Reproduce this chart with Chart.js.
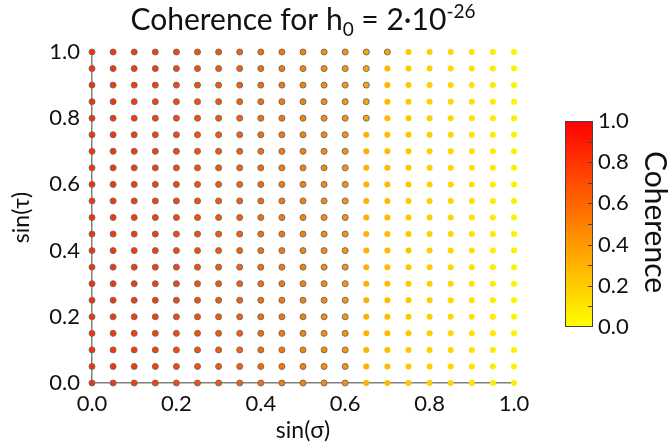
<!DOCTYPE html>
<html>
<head>
<meta charset="utf-8">
<script src="https://cdn.jsdelivr.net/npm/chart.js@4.4.0/dist/chart.umd.min.js"></script>
<style>
  html, body { margin: 0; padding: 0; background: #ffffff; }
  #wrap { width: 671px; height: 448px; position: relative; }
</style>
</head>
<body>
<div id="wrap"><canvas id="c" width="671" height="448"></canvas></div>
<script>
// ---- data ----
const sigmaValues = [0.00,0.05,0.10,0.15,0.20,0.25,0.30,0.35,0.40,0.45,0.50,0.55,0.60,0.65,0.70,0.75,0.80,0.85,0.90,0.95,1.00];
const tauValues   = [0.00,0.05,0.10,0.15,0.20,0.25,0.30,0.35,0.40,0.45,0.50,0.55,0.60,0.65,0.70,0.75,0.80,0.85,0.90,0.95,1.00];
// coherence[row = tau index][col = sigma index]
const coherence = [
  [0.82,0.80,0.78,0.76,0.73,0.70,0.67,0.63,0.59,0.54,0.50,0.46,0.42,0.31,0.27,0.22,0.19,0.16,0.12,0.08,0.06],
  [0.82,0.80,0.78,0.76,0.73,0.70,0.67,0.63,0.59,0.54,0.50,0.46,0.42,0.31,0.27,0.22,0.19,0.16,0.12,0.08,0.06],
  [0.82,0.80,0.78,0.76,0.73,0.70,0.67,0.63,0.59,0.54,0.50,0.46,0.42,0.31,0.27,0.22,0.19,0.16,0.12,0.08,0.06],
  [0.82,0.80,0.78,0.76,0.73,0.70,0.67,0.63,0.59,0.54,0.50,0.46,0.42,0.31,0.27,0.22,0.19,0.16,0.12,0.08,0.06],
  [0.82,0.80,0.78,0.76,0.73,0.70,0.67,0.63,0.59,0.54,0.50,0.46,0.42,0.31,0.27,0.22,0.19,0.16,0.12,0.08,0.06],
  [0.82,0.80,0.78,0.76,0.73,0.70,0.67,0.63,0.59,0.54,0.50,0.46,0.42,0.31,0.27,0.22,0.19,0.16,0.12,0.08,0.06],
  [0.82,0.80,0.78,0.76,0.73,0.70,0.67,0.63,0.59,0.54,0.50,0.46,0.42,0.31,0.27,0.22,0.19,0.16,0.12,0.08,0.06],
  [0.82,0.80,0.78,0.76,0.73,0.70,0.67,0.63,0.59,0.54,0.50,0.46,0.42,0.31,0.27,0.22,0.19,0.16,0.12,0.08,0.06],
  [0.82,0.80,0.78,0.76,0.73,0.70,0.67,0.63,0.59,0.54,0.50,0.46,0.42,0.31,0.27,0.22,0.19,0.16,0.12,0.08,0.06],
  [0.82,0.80,0.78,0.76,0.73,0.70,0.67,0.63,0.59,0.54,0.50,0.46,0.42,0.31,0.27,0.22,0.19,0.16,0.12,0.08,0.06],
  [0.82,0.80,0.78,0.76,0.73,0.70,0.67,0.63,0.59,0.54,0.50,0.46,0.42,0.31,0.27,0.22,0.19,0.16,0.12,0.08,0.06],
  [0.82,0.80,0.78,0.76,0.73,0.70,0.67,0.63,0.59,0.54,0.50,0.46,0.42,0.31,0.27,0.22,0.19,0.16,0.12,0.08,0.06],
  [0.82,0.80,0.78,0.76,0.73,0.70,0.67,0.63,0.59,0.54,0.50,0.46,0.42,0.31,0.27,0.22,0.19,0.16,0.12,0.08,0.06],
  [0.82,0.80,0.78,0.76,0.73,0.70,0.67,0.63,0.59,0.54,0.50,0.46,0.42,0.31,0.27,0.22,0.19,0.16,0.12,0.08,0.06],
  [0.82,0.80,0.78,0.76,0.73,0.70,0.67,0.63,0.59,0.54,0.50,0.46,0.42,0.31,0.27,0.22,0.19,0.16,0.12,0.08,0.06],
  [0.82,0.80,0.78,0.76,0.73,0.70,0.67,0.63,0.59,0.54,0.50,0.46,0.42,0.31,0.27,0.22,0.19,0.16,0.12,0.08,0.06],
  [0.82,0.80,0.78,0.76,0.73,0.70,0.67,0.63,0.59,0.54,0.50,0.46,0.42,0.35,0.27,0.22,0.19,0.16,0.12,0.08,0.06],
  [0.82,0.80,0.78,0.76,0.73,0.70,0.67,0.63,0.59,0.54,0.50,0.46,0.42,0.35,0.27,0.22,0.19,0.16,0.12,0.08,0.06],
  [0.82,0.80,0.78,0.76,0.73,0.70,0.67,0.63,0.59,0.54,0.50,0.46,0.42,0.35,0.28,0.22,0.19,0.16,0.12,0.08,0.06],
  [0.82,0.80,0.78,0.76,0.73,0.70,0.67,0.63,0.59,0.54,0.50,0.46,0.42,0.35,0.28,0.22,0.19,0.16,0.12,0.08,0.06],
  [0.82,0.80,0.78,0.76,0.73,0.70,0.67,0.63,0.59,0.54,0.50,0.46,0.42,0.35,0.34,0.22,0.19,0.16,0.12,0.08,0.06]
];
const axisTickValues = [0.0,0.2,0.4,0.6,0.8,1.0];
const colorbarTickLabels = ["0.0","0.2","0.4","0.6","0.8","1.0"];
const borderThreshold = 1/3;

// ---- helpers ----
function cmap(v) {
  const t = Math.max(0, Math.min(1, v));
  const g = Math.round(255 * (1 - t));
  return 'rgb(255,' + g + ',0)';
}

const points = [], bg = [], bc = [], bw = [];
tauValues.forEach((tau, r) => {
  sigmaValues.forEach((sig, c) => {
    const v = coherence[r][c];
    points.push({x: sig, y: tau});
    bg.push(cmap(v));
    const hasBorder = v >= borderThreshold;
    bc.push(hasBorder ? '#6e6e6e' : cmap(v));
    bw.push(hasBorder ? 1 : 0);
  });
});

const FONT = 'Lato, "Open Sans", sans-serif';

const extrasPlugin = {
  id: 'extras',
  afterDraw(chart) {
    const ctx = chart.ctx;
    ctx.save();
    // ---- title with subscript / superscript ----
    const parts = [
      {t: 'Coherence for h', size: 30, dy: 0},
      {t: '0', size: 19, dy: 6},
      {t: ' = 2\u00B710', size: 30, dy: 0},
      {t: '-26', size: 19, dy: -12}
    ];
    let total = 0;
    parts.forEach(p => { ctx.font = p.size + 'px ' + FONT; p.w = ctx.measureText(p.t).width; total += p.w; });
    const ca = chart.chartArea;
    let x = (ca.left + ca.right) / 2 - total / 2;
    const baseY = 30;
    ctx.fillStyle = '#111111';
    ctx.textBaseline = 'alphabetic';
    ctx.textAlign = 'left';
    parts.forEach(p => {
      ctx.font = p.size + 'px ' + FONT;
      ctx.fillText(p.t, x, baseY + p.dy);
      x += p.w;
    });

    // ---- colorbar ----
    const cbL = 565, cbR = 593, cbT = 121, cbB = 327;
    const grad = ctx.createLinearGradient(0, cbB, 0, cbT);
    for (let i = 0; i <= 10; i++) grad.addColorStop(i / 10, cmap(i / 10));
    ctx.fillStyle = grad;
    ctx.fillRect(cbL, cbT, cbR - cbL, cbB - cbT);
    ctx.strokeStyle = '#444444';
    ctx.lineWidth = 1;
    ctx.strokeRect(cbL + 0.5, cbT + 0.5, cbR - cbL - 1, cbB - cbT - 1);
    ctx.beginPath();
    for (let i = 1; i < 10; i++) {
      const y = Math.round(cbB - (cbB - cbT) * i / 10) + 0.5;
      ctx.moveTo(cbR - 5, y); ctx.lineTo(cbR, y);
    }
    ctx.stroke();
    ctx.fillStyle = '#111111';
    ctx.font = '22px ' + FONT;
    ctx.textAlign = 'left';
    ctx.textBaseline = 'middle';
    colorbarTickLabels.forEach((lab, i) => {
      const y = cbB - (cbB - cbT) * i / (colorbarTickLabels.length - 1);
      ctx.fillText(lab, 598, y);
    });
    // rotated colorbar label
    ctx.translate(655, 222);
    ctx.rotate(Math.PI / 2);
    ctx.font = '30px ' + FONT;
    ctx.textAlign = 'center';
    ctx.textBaseline = 'middle';
    ctx.fillText('Coherence', 0, 0);
    ctx.restore();
  }
};

new Chart(document.getElementById('c'), {
  type: 'scatter',
  data: {
    datasets: [{
      data: points,
      pointRadius: 3,
      pointHoverRadius: 3,
      pointBackgroundColor: bg,
      pointBorderColor: bc,
      pointBorderWidth: bw,
      clip: false
    }]
  },
  options: {
    responsive: false,
    animation: false,
    events: [],
    layout: { padding: { left: 0, right: 157, top: 52, bottom: 0 } },
    plugins: { legend: { display: false }, tooltip: { enabled: false }, title: { display: false } },
    scales: {
      x: {
        type: 'linear', min: 0, max: 1,
        afterFit(s) { s.height = 65; },
        afterBuildTicks(s) { s.ticks = axisTickValues.map(v => ({value: v})); },
        grid: { display: false, drawTicks: false },
        border: { display: true, color: '#808080', width: 1.5 },
        ticks: { color: '#111111', padding: 8, font: { family: FONT, size: 22 }, callback: v => Number(v).toFixed(1), maxRotation: 0 },
        title: { display: true, text: 'sin(\u03C3)', color: '#111111', font: { family: FONT, size: 23 }, padding: { top: 0, bottom: 4 } }
      },
      y: {
        type: 'linear', min: 0, max: 1,
        afterFit(s) { s.width = 92; },
        afterBuildTicks(s) { s.ticks = axisTickValues.map(v => ({value: v})); },
        grid: { display: false, drawTicks: false },
        border: { display: true, color: '#808080', width: 1.5 },
        ticks: { color: '#111111', padding: 12, font: { family: FONT, size: 22 }, callback: v => Number(v).toFixed(1) },
        title: { display: true, text: 'sin(\u03C4)', color: '#111111', font: { family: FONT, size: 23 }, padding: { top: 8, bottom: 0 } }
      }
    }
  },
  plugins: [extrasPlugin]
});
</script>
</body>
</html>
